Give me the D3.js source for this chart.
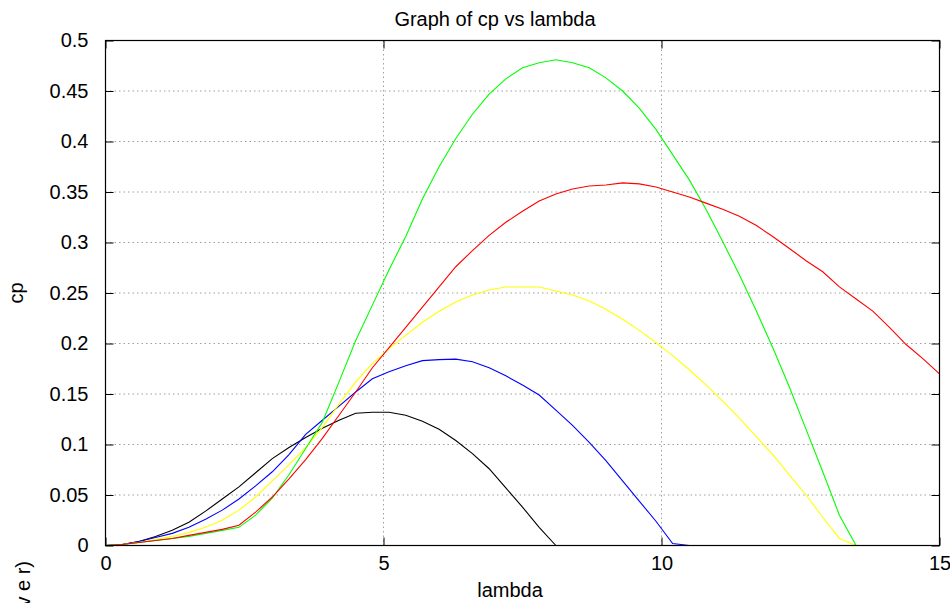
<!DOCTYPE html>
<html>
<head>
<meta charset="utf-8">
<script src="https://cdn.jsdelivr.net/npm/d3@7"></script>
<style>
body { margin: 0; background: #fff; }
svg text { font-family: "Liberation Sans", Arial, sans-serif; font-size: 20px; fill: #000; }
</style>
</head>
<body>
<svg width="950" height="603"></svg>
<script>
// lambda sample points, shared by all curves
var lambda = [0, 0.3, 0.6, 0.9, 1.2, 1.5, 1.8, 2.1, 2.4, 2.7, 3.0, 3.3, 3.6, 3.9, 4.2, 4.5, 4.8, 5.1,
	5.4, 5.7, 6.0, 6.3, 6.6, 6.9, 7.2, 7.5, 7.8, 8.1, 8.4, 8.7, 9.0, 9.3, 9.6, 9.9, 10.2, 10.5,
	10.8, 11.1, 11.4, 11.7, 12.0, 12.3, 12.6, 12.9, 13.2, 13.5, 13.8, 14.1, 14.4, 14.7, 15.0];

// cp values (each series stops where it reaches zero)
var cpBlack = [0, 0.001, 0.004, 0.009, 0.015, 0.023, 0.034, 0.046, 0.058, 0.072, 0.086, 0.097,
	0.107, 0.116, 0.124, 0.131, 0.132, 0.132, 0.129, 0.123, 0.115, 0.104, 0.091, 0.076, 0.057,
	0.038, 0.018, 0];
var cpBlue = [0, 0.001, 0.004, 0.008, 0.012, 0.018, 0.026, 0.035, 0.046, 0.059, 0.073, 0.090,
	0.110, 0.124, 0.138, 0.152, 0.165, 0.172, 0.178, 0.183, 0.184, 0.1845, 0.182, 0.176, 0.168,
	0.159, 0.149, 0.134, 0.119, 0.102, 0.084, 0.064, 0.044, 0.024, 0.002, 0];
var cpYellow = [0, 0.001, 0.003, 0.006, 0.009, 0.013, 0.018, 0.025, 0.035, 0.048, 0.064, 0.080,
	0.097, 0.117, 0.140, 0.162, 0.180, 0.195, 0.208, 0.221, 0.232, 0.241, 0.248, 0.253, 0.256,
	0.256, 0.256, 0.252, 0.248, 0.242, 0.234, 0.224, 0.213, 0.201, 0.188, 0.174, 0.159, 0.143,
	0.126, 0.108, 0.090, 0.070, 0.050, 0.028, 0.007, 0];
var cpGreen = [0, 0.001, 0.003, 0.005, 0.007, 0.009, 0.012, 0.015, 0.018, 0.030, 0.047, 0.070,
	0.096, 0.122, 0.162, 0.203, 0.238, 0.273, 0.306, 0.343, 0.375, 0.403, 0.427, 0.447, 0.462,
	0.473, 0.478, 0.481, 0.478, 0.473, 0.463, 0.450, 0.433, 0.412, 0.387, 0.362, 0.333, 0.301,
	0.268, 0.233, 0.196, 0.157, 0.115, 0.073, 0.030, 0];
var cpRed = [0, 0.001, 0.003, 0.005, 0.007, 0.010, 0.013, 0.016, 0.020, 0.033, 0.048, 0.066,
	0.085, 0.106, 0.129, 0.152, 0.176, 0.196, 0.216, 0.236, 0.256, 0.276, 0.292, 0.307, 0.320,
	0.331, 0.341, 0.348, 0.353, 0.356, 0.357, 0.359, 0.358, 0.355, 0.350, 0.345, 0.339, 0.333,
	0.326, 0.317, 0.306, 0.294, 0.282, 0.271, 0.256, 0.244, 0.232, 0.216, 0.199, 0.185, 0.170];

var xTicks = [0, 5, 10, 15];
var yTicks = [0, 0.05, 0.1, 0.15, 0.2, 0.25, 0.3, 0.35, 0.4, 0.45, 0.5];

var series = [
	{ color: '#000000', values: cpBlack },
	{ color: '#0000ff', values: cpBlue },
	{ color: '#ffff00', values: cpYellow },
	{ color: '#00ff00', values: cpGreen },
	{ color: '#ff0000', values: cpRed }
];

(function () {

var svg = d3.select('svg');
var left = 105.5, right = 939.5, top = 40.5, bottom = 545.5;
var tickLen = 8;

var x = d3.scaleLinear().domain([0, 15]).range([left, right]);
var y = d3.scaleLinear().domain([0, 0.5]).range([bottom, top]);

// dotted grid (interior ticks only)
svg.append('g').selectAll('line.gx').data(xTicks.slice(1, -1)).enter().append('line')
	.attr('x1', function (d) { return x(d); }).attr('x2', function (d) { return x(d); })
	.attr('y1', top).attr('y2', bottom)
	.attr('stroke', '#a0a0a0').attr('stroke-dasharray', '1.5,3');
svg.append('g').selectAll('line.gy').data(yTicks.slice(1, -1)).enter().append('line')
	.attr('x1', left).attr('x2', right)
	.attr('y1', function (d) { return y(d); }).attr('y2', function (d) { return y(d); })
	.attr('stroke', '#a0a0a0').attr('stroke-dasharray', '1.5,3');

// curves
var line = d3.line()
	.x(function (d, i) { return x(lambda[i]); })
	.y(function (d) { return y(d); });

svg.append('g').selectAll('path').data(series).enter().append('path')
	.attr('d', function (d) { return line(d.values); })
	.attr('fill', 'none')
	.attr('stroke', function (d) { return d.color; })
	.attr('stroke-width', 1.1);

// axes: gnuplot style, ticks pointing in on all four sides
var xb = svg.append('g').attr('transform', 'translate(0,' + bottom + ')')
	.call(d3.axisBottom(x).tickValues(xTicks).tickSizeInner(-tickLen).tickSizeOuter(0).tickPadding(20)
		.tickFormat(d3.format('d')));
var xt = svg.append('g').attr('transform', 'translate(0,' + top + ')')
	.call(d3.axisTop(x).tickValues(xTicks).tickSizeInner(-tickLen).tickSizeOuter(0).tickFormat(''));
var yl = svg.append('g').attr('transform', 'translate(' + left + ',0)')
	.call(d3.axisLeft(y).tickValues(yTicks).tickSizeInner(-tickLen).tickSizeOuter(0).tickPadding(17)
		.tickFormat(function (d) { return d3.format('~g')(d); }));
var yr = svg.append('g').attr('transform', 'translate(' + right + ',0)')
	.call(d3.axisRight(y).tickValues(yTicks).tickSizeInner(-tickLen).tickSizeOuter(0).tickFormat(''));

svg.selectAll('.domain').remove();
svg.selectAll('.tick line').attr('stroke', '#000').attr('stroke-width', 1);
svg.selectAll('.tick text').attr('font-size', 20).attr('font-family', '"Liberation Sans", Arial, sans-serif');
xb.selectAll('.tick text').attr('dy', '0.2em');

// border
svg.append('rect')
	.attr('x', left).attr('y', top)
	.attr('width', right - left).attr('height', bottom - top)
	.attr('fill', 'none').attr('stroke', '#000').attr('stroke-width', 1.2);

// labels
svg.append('text').attr('x', 495).attr('y', 26).attr('text-anchor', 'middle')
	.text('Graph of cp vs lambda');
svg.append('text').attr('x', 510).attr('y', 597).attr('text-anchor', 'middle')
	.text('lambda');
svg.append('text').attr('transform', 'translate(23,293) rotate(-90)').attr('text-anchor', 'middle')
	.text('cp');
svg.append('text').attr('transform', 'translate(30,561) rotate(-90)').attr('text-anchor', 'end')
	.text('v e r)');

})();
</script>
</body>
</html>
